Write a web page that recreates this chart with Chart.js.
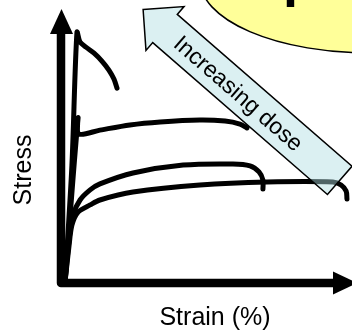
<!DOCTYPE html>
<html>
<head>
<meta charset="utf-8">
<script src="https://cdn.jsdelivr.net/npm/chart.js@4/dist/chart.umd.min.js"></script>
<style>
    html, body { margin: 0; padding: 0; background: #fff; }
    #stressChart { display: block; }
</style>
</head>
<body>
<canvas id="stressChart" width="352" height="330"></canvas>
<script>
// stress-strain curves, from highest dose (top) to lowest dose (bottom)
const strainHigh = [1.4, 3.9, 5.7, 6.8, 8.9, 11.8, 14.6, 17.1, 18.9, 20.0];
const stressHigh = [0, 43.2, 91.9, 88.3, 86.4, 84.2, 81.3, 78.0, 74.7, 71.4];

const strainMid = [1.4, 6.1, 6.4, 13.9, 24.6, 35.4, 49.6, 58.6, 63.9, 66.4];
const stressMid = [0, 60.4, 54.6, 56.0, 57.9, 59.0, 59.7, 59.3, 58.2, 56.8];

const strainLow = [1.4, 2.9, 4.3, 6.8, 10.4, 13.9, 25.7, 43.6, 61.4, 67.5, 70.7, 72.1, 72.1];
const stressLow = [0, 15.8, 24.9, 30.4, 34.1, 36.3, 40.3, 43.2, 43.6, 42.9, 40.7, 37.7, 34.4];

const strainNone = [1.4, 2.9, 3.9, 6.1, 10.4, 13.9, 25.7, 49.6, 73.6, 97.1, 100.0, 101.8, 102.1];
const stressNone = [0, 13.9, 21.2, 26.0, 28.6, 30.4, 33.3, 35.9, 37.0, 37.0, 35.9, 33.7, 30.8];

const xTitle = 'Strain (%)';
const yTitle = 'Stress';
const arrowLabel = 'Increasing dose';
const bubbleText = 'p';

function toPoints(xs, ys) { return xs.map((x, i) => ({ x: x, y: ys[i] })); }

document.addEventListener('DOMContentLoaded', function () {
    const ctx = document.getElementById('stressChart').getContext('2d');

    // axes with arrow heads, titles, callout bubble and the dose arrow
    const decorations = {
        id: 'decorations',
        beforeDatasetsDraw(chart) {
            const c = chart.ctx;
            c.save();
            // yellow bubble, mostly off the top edge
            c.beginPath();
            c.ellipse(370, -20, 170, 73, 0, 0, Math.PI * 2);
            c.fillStyle = '#FFFF99';
            c.fill();
            c.lineWidth = 1.5;
            c.strokeStyle = '#000';
            c.stroke();
            c.fillStyle = '#000';
            c.font = 'bold 54px "Liberation Sans", Arial, sans-serif';
            c.textBaseline = 'alphabetic';
            c.textAlign = 'left';
            c.fillText(bubbleText, 283, -4);
            c.restore();
        },
        afterDatasetsDraw(chart) {
            const c = chart.ctx;
            const x0 = chart.scales.x.getPixelForValue(0);
            const y0 = chart.scales.y.getPixelForValue(0);
            c.save();
            c.strokeStyle = '#000';
            c.fillStyle = '#000';
            c.lineWidth = 8.5;
            c.lineJoin = 'round';
            c.beginPath();
            c.moveTo(x0, 30);
            c.lineTo(x0, y0);
            c.lineTo(336, y0);
            c.stroke();
            c.beginPath();
            c.moveTo(x0 + 0.5, 9); c.lineTo(x0 - 11, 34); c.lineTo(x0 + 12, 34); c.closePath();
            c.fill();
            c.beginPath();
            c.moveTo(333, y0 - 11.5); c.lineTo(333, y0 + 11.5); c.lineTo(357, y0); c.closePath();
            c.fill();

            // axis titles
            c.font = '25px "Liberation Sans", Arial, sans-serif';
            c.textAlign = 'center';
            c.textBaseline = 'alphabetic';
            c.fillText(xTitle, 215, 325);
            c.save();
            c.translate(30.5, 170);
            c.rotate(-Math.PI / 2);
            c.fillText(yTitle, 0, 0);
            c.restore();

            // dose arrow (semi-transparent, over the curves)
            const ang = 41 * Math.PI / 180;
            c.translate(165, 28.5);
            c.rotate(ang);
            c.beginPath();
            c.moveTo(-29, 0);
            c.lineTo(0, -29);
            c.lineTo(0, -18.7);
            c.lineTo(231.5, -18.7);
            c.lineTo(231.5, 18.7);
            c.lineTo(0, 18.7);
            c.lineTo(0, 29);
            c.closePath();
            c.fillStyle = 'rgba(176,222,226,0.45)';
            c.fill();
            c.lineWidth = 1.5;
            c.lineJoin = 'miter';
            c.strokeStyle = '#000';
            c.stroke();
            c.fillStyle = '#000';
            c.font = '23px "Liberation Sans", Arial, sans-serif';
            c.textAlign = 'center';
            c.textBaseline = 'middle';
            c.fillText(arrowLabel, 98, 2);
            c.restore();
        }
    };

    const lineStyle = { borderColor: '#000', borderWidth: 5, pointRadius: 0, showLine: true, tension: 0.3, borderCapStyle: 'round', borderJoinStyle: 'round', clip: false };

    new Chart(ctx, {
        type: 'scatter',
        data: {
            datasets: [
                Object.assign({ label: 'High dose', data: toPoints(strainHigh, stressHigh) }, lineStyle),
                Object.assign({ label: 'Medium dose', data: toPoints(strainMid, stressMid) }, lineStyle),
                Object.assign({ label: 'Low dose', data: toPoints(strainLow, stressLow) }, lineStyle),
                Object.assign({ label: 'No dose', data: toPoints(strainNone, stressNone) }, lineStyle)
            ]
        },
        options: {
            responsive: false,
            animation: false,
            layout: { padding: { left: 61, right: 0, top: 10, bottom: 47 } },
            scales: {
                x: { type: 'linear', min: 0, max: 103.9, display: false },
                y: { type: 'linear', min: 0, max: 100, display: false }
            },
            plugins: { legend: { display: false }, tooltip: { enabled: false } }
        },
        plugins: [decorations]
    });
});
</script>
</body>
</html>
